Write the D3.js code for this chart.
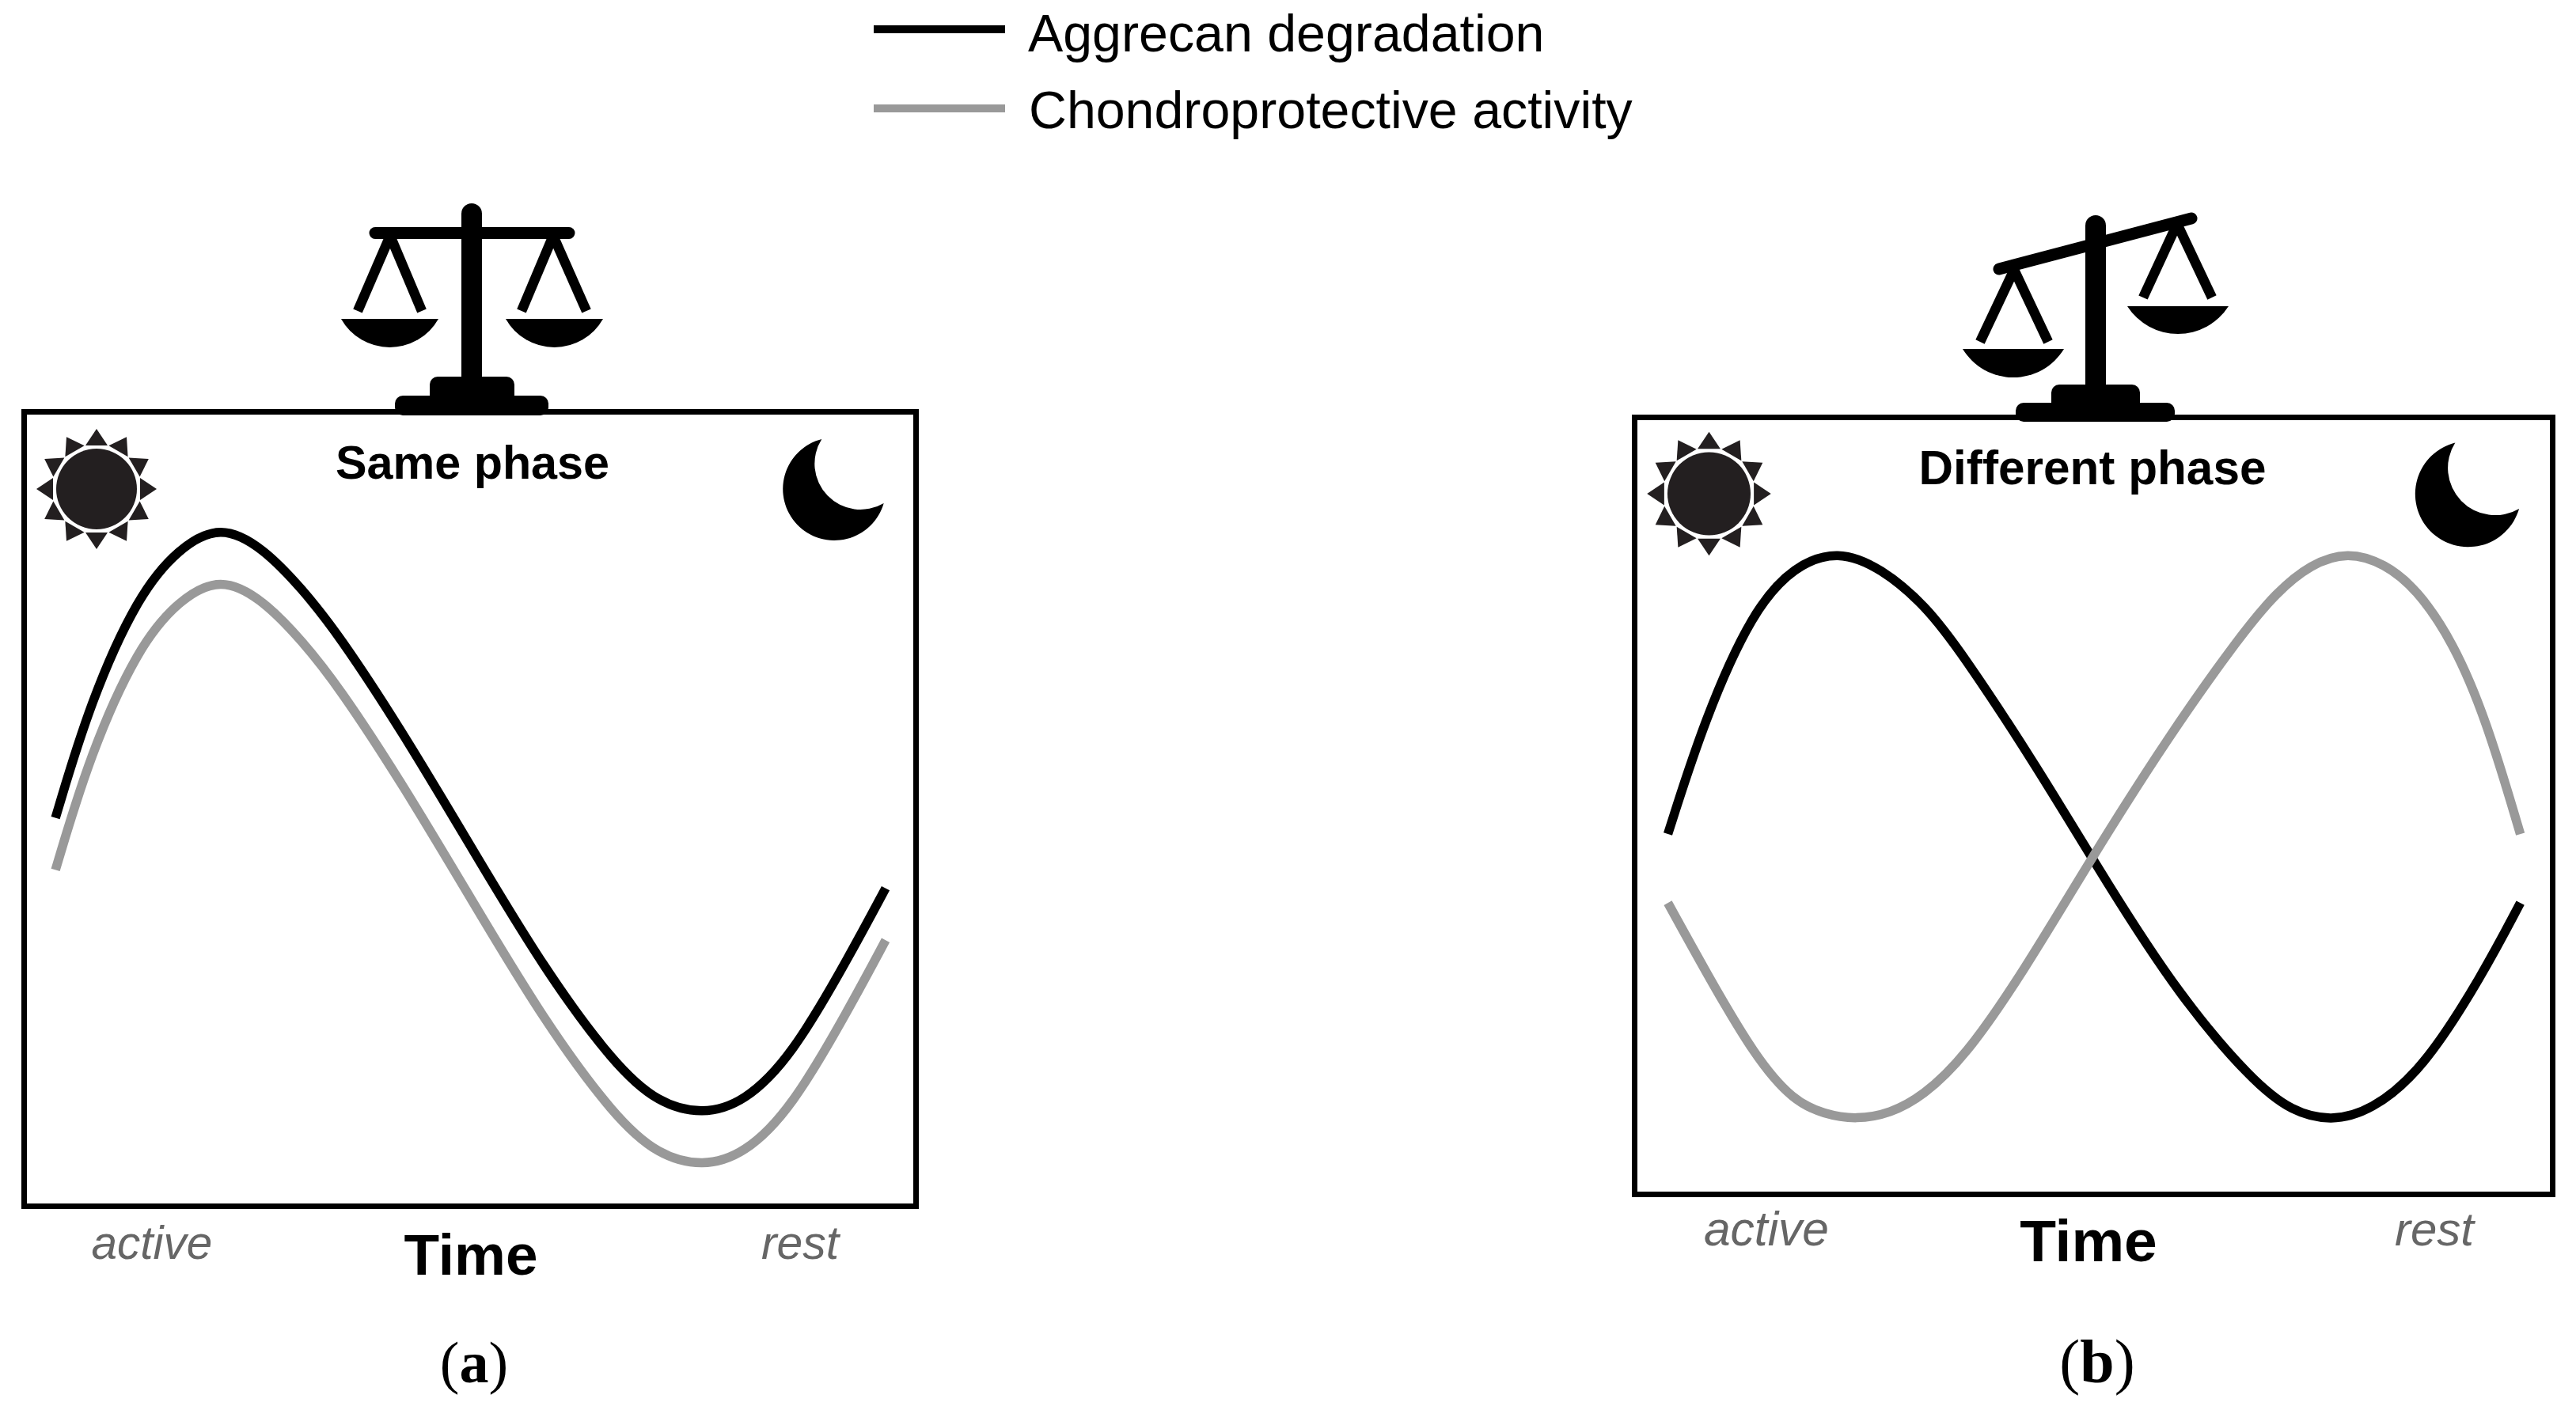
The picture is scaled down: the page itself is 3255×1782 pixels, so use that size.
<!DOCTYPE html>
<html>
<head>
<meta charset="utf-8">
<title>Aggrecan degradation</title>
<script src="https://cdn.jsdelivr.net/npm/d3@7"></script>
<style>
  html, body { margin: 0; background: #fff; }
  text { font-family: "Liberation Sans", Arial, sans-serif; }
</style>
</head>
<body>
<div id="chart"></div>
<script>
// values. time and level are in % of the panel box
const legendLabels = ["Aggrecan degradation", "Chondroprotective activity"];
const axisLabel = "Time";
const phaseLabels = ["active", "rest"];
const panelTitles = ["Same phase", "Different phase"];
const panelLetters = ["a", "b"];

const timeA = [3.8, 7.7, 13, 17.5, 22.2, 27, 31.3, 35.3, 42.5, 50.4, 58.2, 66.1, 71, 75.9, 80.5, 85.8, 92.3, 96.3];
const aggrecanA = [48.9, 63.5, 76.7, 82.6, 85.6, 82.6, 77.5, 71.9, 59.6, 44.7, 30.1, 18, 13.2, 11.8, 13.3, 19, 31.7, 40.1];
const chondroA = [42.4, 57, 70.2, 76.1, 79.1, 76.1, 71, 65.4, 53.1, 38.2, 23.6, 11.5, 6.7, 5.3, 6.8, 12.5, 25.2, 33.6];

const timeB1 = [3.9, 7.9, 13.1, 17.6, 22.3, 27, 31.8, 35.7, 43.6, 51.5, 59.3, 67.2, 71.5, 75.7, 80, 85.6, 92.1, 96.2];
const aggrecanB = [46.4, 61.2, 75, 80.7, 82.7, 80.4, 75.6, 69.6, 55.5, 40, 25.7, 14.8, 10.9, 9.7, 11, 16.2, 28.4, 37.6];
const timeB2 = [3.9, 8, 13.4, 17.5, 20.8, 24.3, 28, 31.5, 36, 42.3, 49.8, 58, 65.9, 69.8, 73.5, 77.5, 81.5, 85, 88.9, 92.5, 96.2];
const chondroB = [37.6, 28.8, 17.8, 12.3, 10.6, 9.9, 10.7, 12.9, 17.8, 28.6, 43.4, 58.7, 71.8, 77.3, 80.9, 82.5, 81, 77.7, 71, 61.1, 46.4];

const black = "#000", gray = "#999", iconColor = "#231f20";

const svg = d3.select("#chart").append("svg")
    .attr("width", 3255)
    .attr("height", 1782)
    .style("display", "block");

function label(x, y, str, size, opts) {
    opts = opts || {};
    return svg.append("text")
        .attr("x", x)
        .attr("y", y)
        .attr("font-size", size)
        .attr("text-anchor", opts.anchor || "middle")
        .attr("font-weight", opts.bold ? "bold" : null)
        .attr("font-style", opts.italic ? "italic" : null)
        .attr("fill", opts.fill || black)
        .text(str);
}

// legend
[37, 137].forEach((y, i) => {
    svg.append("line")
        .attr("x1", 1104).attr("x2", 1270)
        .attr("y1", y).attr("y2", y)
        .attr("stroke", i ? gray : black)
        .attr("stroke-width", 10);
});
label(1299, 65, legendLabels[0], 66.3, { anchor: "start" });
label(1300, 162, legendLabels[1], 66.3, { anchor: "start" });

// sun: disc with 12 rays
function sun(cx, cy, k) {
    const g = svg.append("g").attr("transform", `translate(${cx},${cy}) scale(${k})`);
    g.append("circle").attr("r", 51).attr("fill", iconColor);
    d3.range(12).forEach(i => {
        g.append("path")
            .attr("d", "M-14,-55 L0,-76 L14,-55 Z")
            .attr("transform", `rotate(${i * 30})`)
            .attr("fill", iconColor);
    });
}

function moon(x, y, k) {
    svg.append("path")
        .attr("transform", `translate(${x},${y}) scale(${k})`)
        .attr("d", "M68.3,15 A65,65 0 1 0 146.7,96 A58,58 0 0 1 68.3,15 Z")
        .attr("fill", black);
}

// one pan of the balance with its two strings
function pan(g, apex, footL, footR, x0, x1, top, bottom) {
    [footL, footR].forEach(f => {
        g.append("line")
            .attr("x1", apex).attr("y1", f[2])
            .attr("x2", f[0]).attr("y2", f[1])
            .attr("stroke", black).attr("stroke-width", 12.5);
    });
    const w = x1 - x0, h = bottom - top, r = (w * w / 4 + h * h) / (2 * h);
    g.append("path")
        .attr("d", `M${x0},${top} L${x1},${top} A${r},${r} 0 0 1 ${x0},${top} Z`)
        .attr("fill", black);
}

function balance(b) {
    const g = svg.append("g");
    g.append("line")
        .attr("x1", b.beam[0]).attr("y1", b.beam[1])
        .attr("x2", b.beam[2]).attr("y2", b.beam[3])
        .attr("stroke", black).attr("stroke-width", 15).attr("stroke-linecap", "round");
    g.append("rect")
        .attr("x", b.cx - 13).attr("width", 26)
        .attr("y", b.top).attr("height", b.bottom - b.top)
        .attr("rx", 13).attr("fill", black);
    g.append("rect")
        .attr("x", b.upper[0]).attr("width", b.upper[1] - b.upper[0])
        .attr("y", b.upper[2]).attr("height", b.bottom - b.upper[2])
        .attr("rx", 10).attr("fill", black);
    g.append("rect")
        .attr("x", b.lower[0]).attr("width", b.lower[1] - b.lower[0])
        .attr("y", b.lower[2]).attr("height", b.bottom - b.lower[2])
        .attr("rx", 10).attr("fill", black);
    b.pans.forEach(p => pan(g, p[0], [p[1], p[3], p[4]], [p[2], p[3], p[4]], p[5], p[6], p[7], p[8]));
}

const lineColors = [black, gray];

function panel(p) {
    const x = d3.scaleLinear().domain([0, 100]).range([p.x0, p.x1]);
    const y = d3.scaleLinear().domain([0, 100]).range([p.y1, p.y0]);

    svg.append("rect")
        .attr("x", p.x0 + 3.5).attr("y", p.y0 + 3.5)
        .attr("width", p.x1 - p.x0 - 7).attr("height", p.y1 - p.y0 - 7)
        .attr("fill", "none").attr("stroke", black).attr("stroke-width", 7);

    const line = d3.line()
        .x(d => x(d[0]))
        .y(d => y(d[1]))
        .curve(d3.curveBasis);

    p.series.forEach((s, i) => {
        svg.append("path")
            .attr("d", line(d3.zip(s[0], s[1])))
            .attr("fill", "none")
            .attr("stroke", lineColors[i])
            .attr("stroke-width", 11.5);
    });
}

panel({
    x0: 27, x1: 1161, y0: 517, y1: 1528,
    series: [[timeA, aggrecanA], [timeA, chondroA]]
});
panel({
    x0: 2062, x1: 3229, y0: 524, y1: 1513,
    series: [[timeB1, aggrecanB], [timeB2, chondroB]]
});

balance({
    cx: 596, top: 257, bottom: 525,
    beam: [474, 294.5, 719, 294.5],
    upper: [543, 650, 476], lower: [499, 693, 500],
    pans: [
        [493, 452, 533, 393, 298, 431, 554, 403, 439],
        [699, 659, 741, 393, 298, 639, 762, 403, 439]
    ]
});
balance({
    cx: 2648, top: 272, bottom: 533,
    beam: [2526, 340, 2769, 276],
    upper: [2592, 2704, 486], lower: [2547, 2748, 509],
    pans: [
        [2545, 2502, 2588, 432, 341, 2480, 2608, 441, 477],
        [2751, 2708, 2795, 376, 283, 2688, 2816, 387, 422]
    ]
});

sun(122, 618, 1);
sun(2159.5, 624, 1.03);
moon(970, 540, 1);
moon(3032, 544, 1.03);

// texts
label(597, 605, panelTitles[0], 59.3, { bold: true });
label(2644, 612, panelTitles[1], 60.3, { bold: true });

label(192, 1591, phaseLabels[0], 58.5, { italic: true, fill: "#666" });
label(1011, 1591, phaseLabels[1], 58.8, { italic: true, fill: "#666" });
label(595, 1611, axisLabel, 73, { bold: true });

label(2232, 1574, phaseLabels[0], 60.5, { italic: true, fill: "#666" });
label(3076, 1574, phaseLabels[1], 60, { italic: true, fill: "#666" });
label(2639, 1594, axisLabel, 75, { bold: true });

[[599, 74, 0], [2650, 78, 1]].forEach(d => {
    const t = label(d[0], 1747, "(", d[1]).style("font-family", "Liberation Serif");
    t.append("tspan").attr("font-weight", "bold").text(panelLetters[d[2]]);
    t.append("tspan").text(")");
});
</script>
</body>
</html>
